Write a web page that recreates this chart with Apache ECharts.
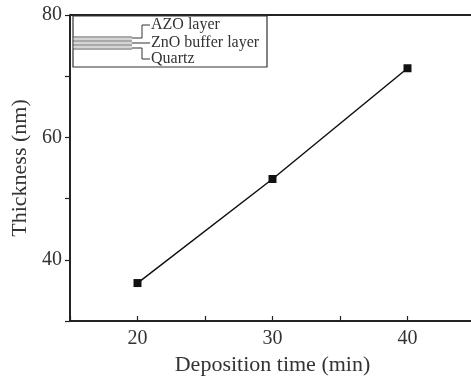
<!DOCTYPE html>
<html>
<head>
<meta charset="utf-8">
<script src="https://cdn.jsdelivr.net/npm/echarts@6/dist/echarts.min.js"></script>
<style>
  html, body { margin: 0; padding: 0; background: #fff; }
  #chart { width: 471px; height: 379px; }
</style>
</head>
<body>
<div id="chart"></div>
<script>
// deposition time (min) and film thickness (nm)
const depositionTime = [20, 30, 40];
const thickness = [36.2, 53.2, 71.3];
const xLabels = [20, 30, 40];
const yLabels = [40, 60, 80];
const layerNames = ['AZO layer', 'ZnO buffer layer', 'Quartz'];

const serif = '"Liberation Serif", "DejaVu Serif", serif';
const ink = '#222';

let drawCharts = echarts.init(document.getElementById('chart'));

// inset: stacked film schematic with labels
const layerLines = [];
[37, 39, 41, 43, 45, 47, 49].forEach(function(y, i){
  layerLines.push({
    type: 'line',
    shape: { x1: 73, y1: y, x2: 132, y2: y },
    style: { stroke: i % 2 === 0 ? '#555' : '#aaa', lineWidth: 1 }
  });
});
const connectors = [
  { type: 'polyline', shape: { points: [[132, 38], [142, 38], [142, 25], [150, 25]] }, style: { stroke: '#333', fill: null, lineWidth: 1 } },
  { type: 'polyline', shape: { points: [[132, 43], [150, 43]] }, style: { stroke: '#333', fill: null, lineWidth: 1 } },
  { type: 'polyline', shape: { points: [[132, 48], [142, 48], [142, 59], [150, 59]] }, style: { stroke: '#333', fill: null, lineWidth: 1 } }
];
const layerTexts = layerNames.map(function(name, i){
  return {
    type: 'text',
    x: 151, y: [25, 43, 59][i],
    style: { text: name, font: '16px ' + serif, fill: '#333', verticalAlign: 'middle' }
  };
});

option = {
  animation: false,
  backgroundColor: '#fff',
  grid: { left: 70, top: 15, bottom: 58, right: -4, outerBoundsMode: 'none', containLabel: false },
  xAxis: {
    type: 'value',
    min: 15,
    max: 45,
    interval: 5,
    name: 'Deposition time (min)',
    nameLocation: 'middle',
    nameGap: 32,
    nameTextStyle: { fontFamily: serif, fontSize: 22, color: '#333' },
    axisLine: { lineStyle: { color: ink, width: 2 } },
    axisTick: { inside: true, length: 5, lineStyle: { color: ink, width: 1.2 } },
    axisLabel: {
      margin: 8,
      fontFamily: serif, fontSize: 20, color: '#333',
      formatter: function(v){ return xLabels.indexOf(v) >= 0 ? String(v) : ''; }
    },
    splitLine: { show: false }
  },
  yAxis: {
    type: 'value',
    min: 30,
    max: 80,
    interval: 10,
    name: 'Thickness (nm)',
    nameLocation: 'middle',
    nameGap: 39,
    nameTextStyle: { fontFamily: serif, fontSize: 22, color: '#333' },
    axisLine: { show: true, lineStyle: { color: ink, width: 2 } },
    axisTick: { show: true, inside: false, length: 5, lineStyle: { color: ink, width: 1.2 } },
    axisLabel: {
      margin: 8,
      fontFamily: serif, fontSize: 20, color: '#333',
      formatter: function(v){ return yLabels.indexOf(v) >= 0 ? String(v) : ''; }
    },
    splitLine: { show: false }
  },
  graphic: [
    { type: 'line', shape: { x1: 70, y1: 15, x2: 471, y2: 15 }, style: { stroke: ink, lineWidth: 2 } },
    { type: 'rect', shape: { x: 73, y: 16, width: 194, height: 51 }, style: { stroke: '#333', fill: '#fff', lineWidth: 1.2 } }
  ].concat(layerLines, connectors, layerTexts),
  series: [{
    type: 'line',
    data: depositionTime.map(function(t, i){ return [t, thickness[i]]; }),
    symbol: 'rect',
    symbolSize: 8,
    lineStyle: { color: '#111', width: 1.5 },
    itemStyle: { color: '#111' }
  }]
};
drawCharts.setOption(option);
</script>
</body>
</html>
